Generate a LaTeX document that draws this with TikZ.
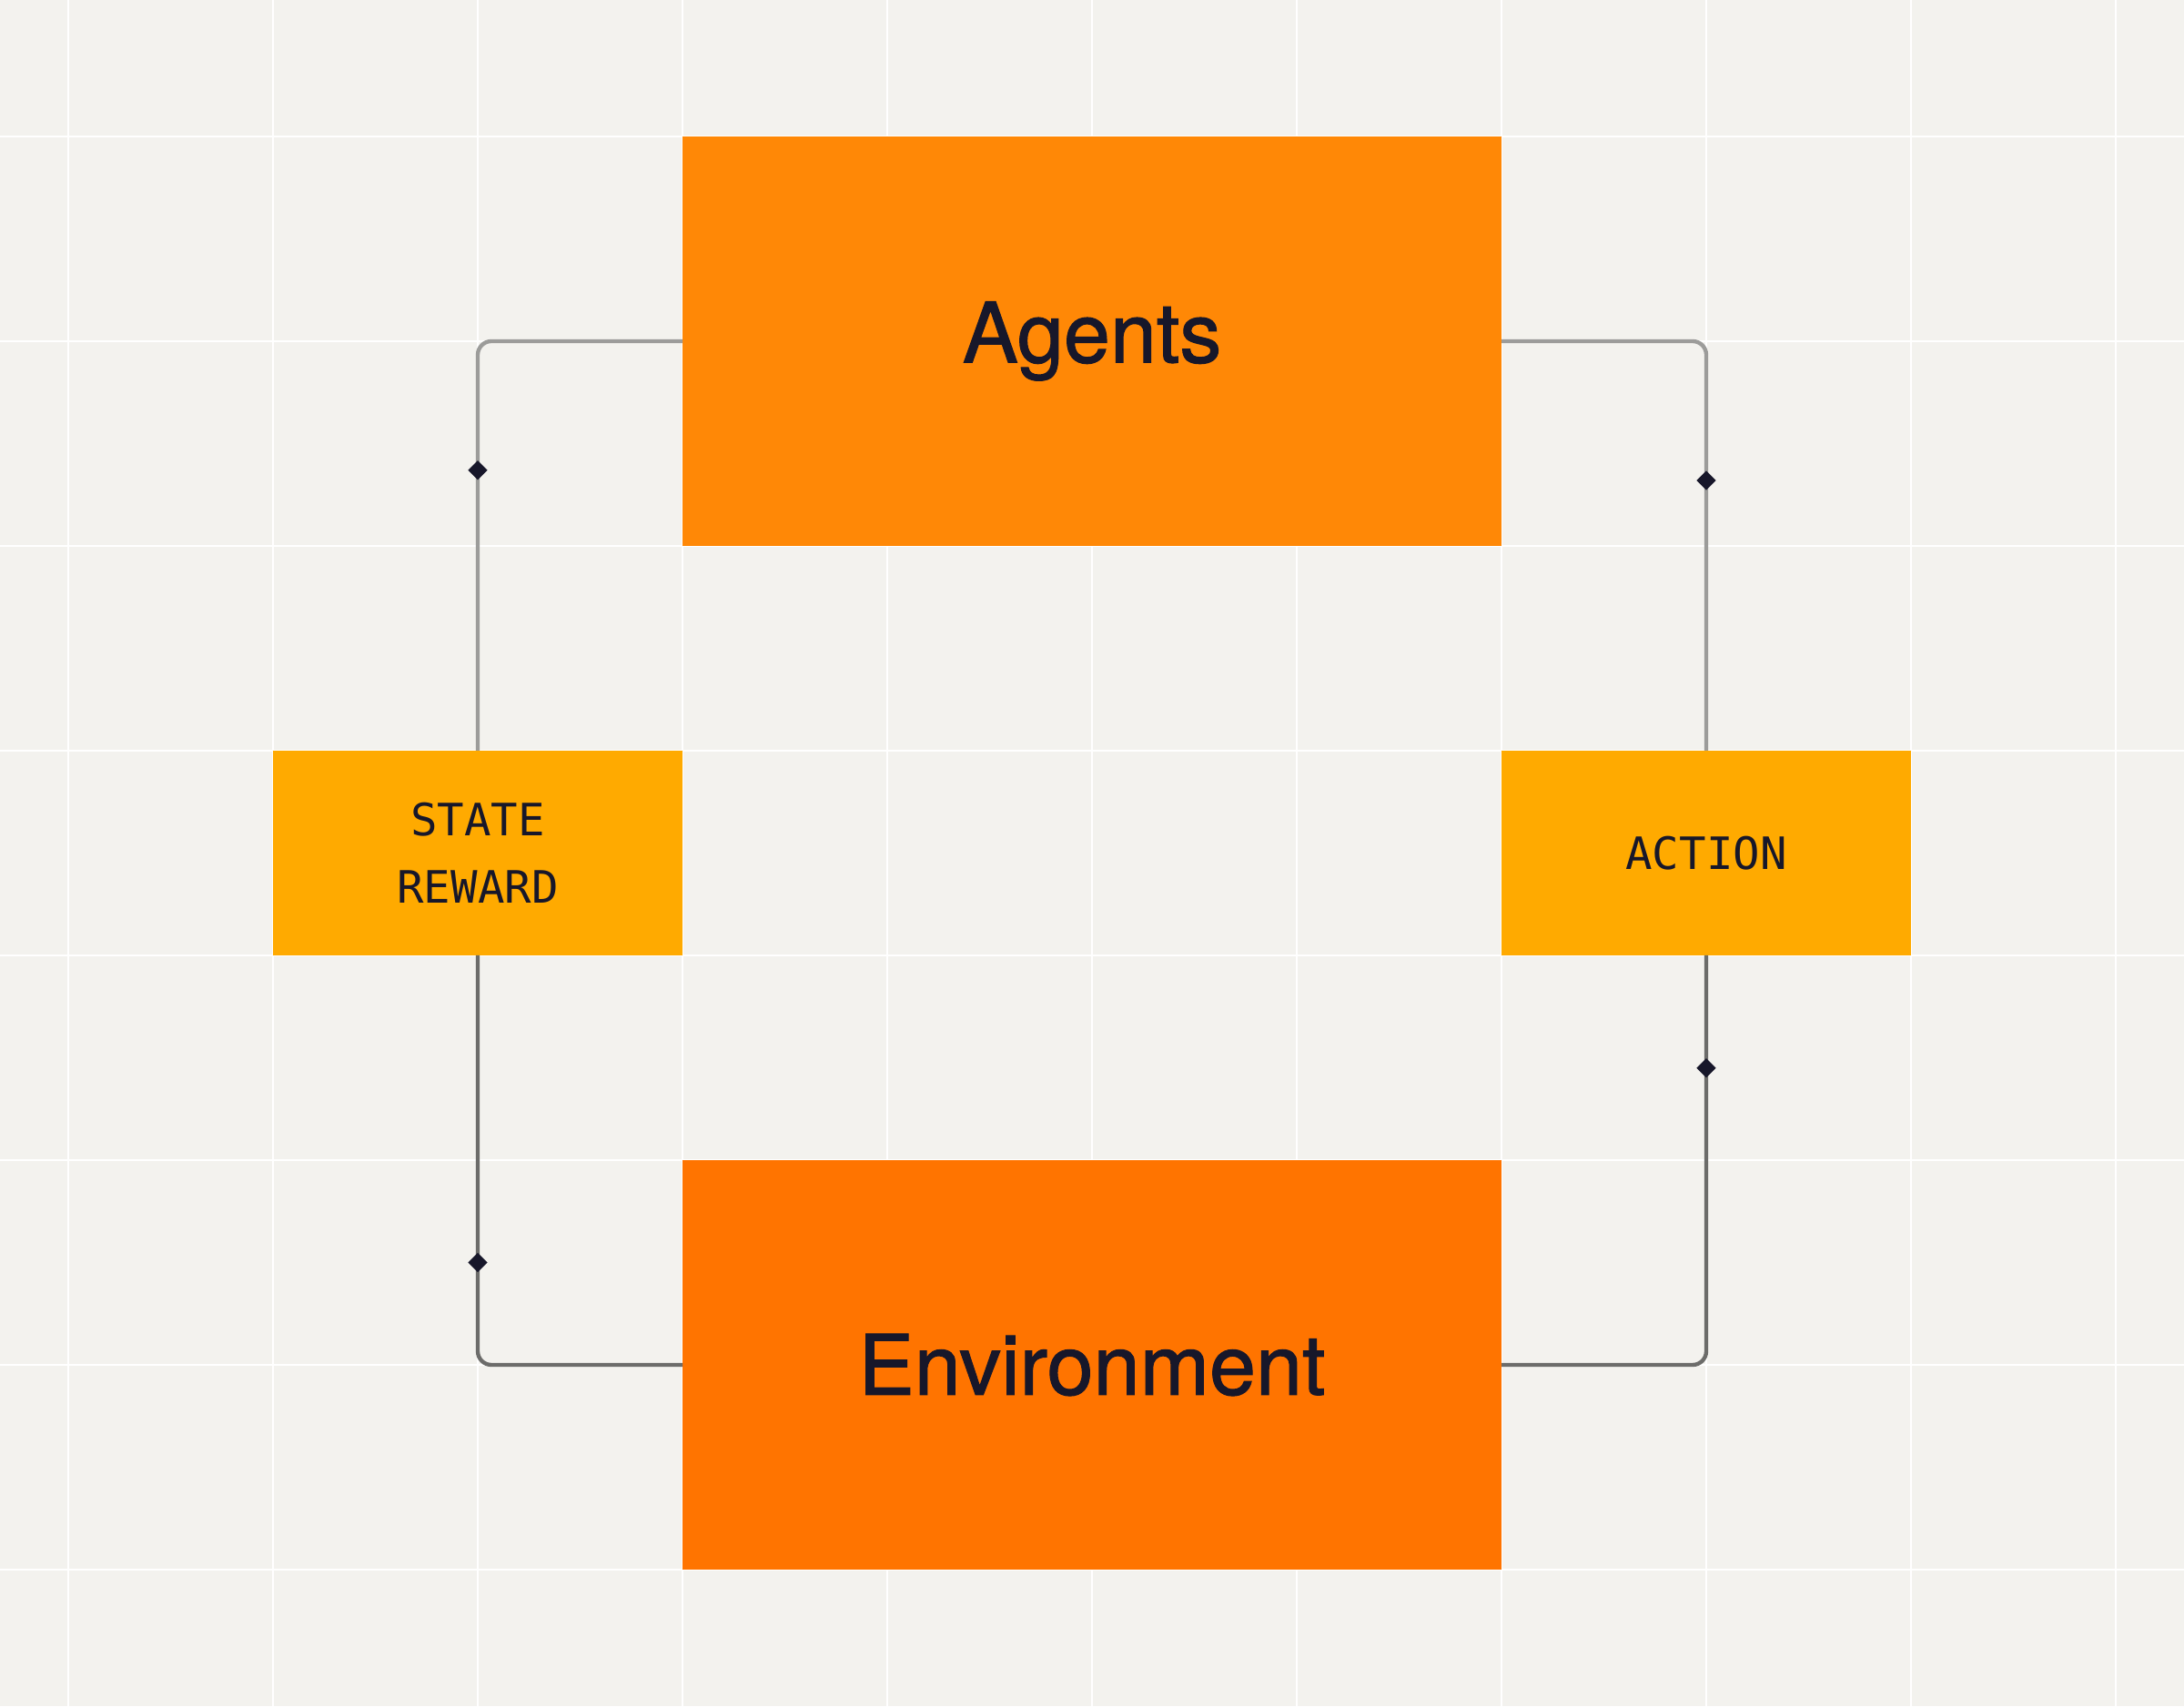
\documentclass[tikz,border=0pt]{standalone}
\usepackage{fontspec}
\usetikzlibrary{shapes.geometric}
\newfontfamily\headfont[FakeBold=1.2]{TeX Gyre Heros}
\newfontfamily\monofont{DejaVu Sans Mono}
\definecolor{paper}{HTML}{F3F2EE}
\definecolor{agentorange}{HTML}{FF8806}
\definecolor{envorange}{HTML}{FF7400}
\definecolor{tagorange}{HTML}{FFAA00}
\definecolor{ink}{HTML}{17172A}
\definecolor{wiretop}{HTML}{9C9C9A}
\definecolor{wirebot}{HTML}{6C6C6A}
\tikzset{
	bigbox/.style={minimum width=4cm, minimum height=2cm, inner sep=0pt, outer sep=0pt,
		text=ink, font=\headfont\fontsize{11.6}{14}\selectfont},
	tagbox/.style={minimum width=2cm, minimum height=1cm, inner sep=0pt, outer sep=0pt,
		fill=tagorange, text=ink, align=center, font=\monofont\fontsize{6.2}{9.4}\selectfont},
	wire/.style={line width=0.55pt, rounded corners=1.9pt},
	knot/.style={diamond, fill=ink, inner sep=0pt, minimum size=0.1cm}
}
\begin{document}
\begin{tikzpicture}[x=1cm, y=1cm]
	%%Hintergrund und Raster
	\useasboundingbox (-1/3,-2/3) rectangle (31/3,23/3);
	\fill[paper] (-1/3,-2/3) rectangle (31/3,23/3);
	\foreach \x in {0,...,10}
		\draw [white, line width=0.3pt] (\x,-2/3) -- (\x,23/3);
	\foreach \y in {0,...,7}
		\draw [white, line width=0.3pt] (-1/3,\y) -- (31/3,\y);
	%%Kaesten
	\node[bigbox, fill=agentorange] (agents) at (5,6) {\raisebox{-0.5ex}{Agents}};
	\node[bigbox, fill=envorange] (env) at (5,1) {Environment};
	\node[tagbox] (state) at (2,3.5) {STATE\\REWARD};
	\node[tagbox] (action) at (8,3.5) {ACTION};
	%%Verbindungen
	\draw [wire, wiretop] (agents.west) -| (state.north);
	\draw [wire, wirebot] (state.south) |- (env.west);
	\draw [wire, wiretop] (agents.east) -| (action.north);
	\draw [wire, wirebot] (action.south) |- (env.east);
	%%Rauten
	\node[knot] (kstate) at (2,5.37) {};
	\node[knot] (kenv) at (2,1.5) {};
	\node[knot] (kagents) at (8,5.32) {};
	\node[knot] (kaction) at (8,2.45) {};
\end{tikzpicture}
\end{document}
